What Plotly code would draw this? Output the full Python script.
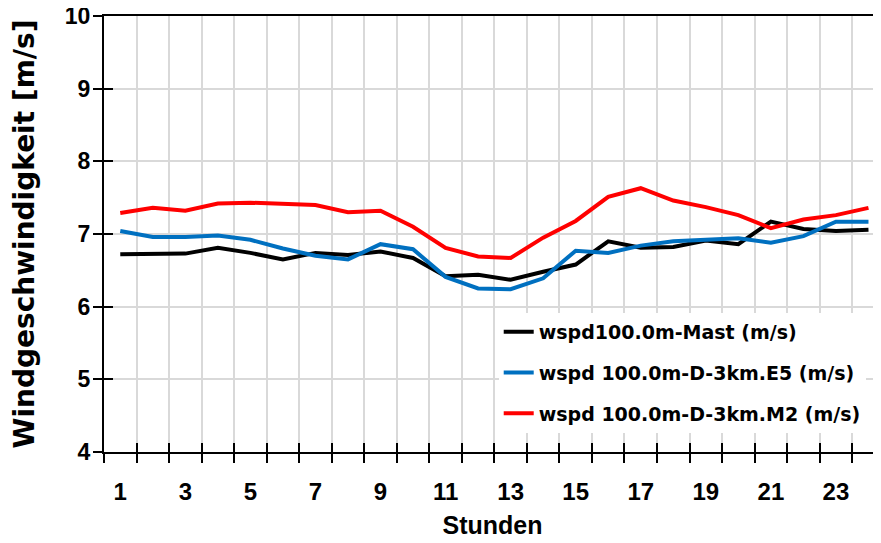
import plotly.graph_objects as go

hours = list(range(1, 25))
mast = [6.72, 6.72, 6.73, 6.81, 6.74, 6.65, 6.74, 6.71, 6.76, 6.67, 6.42, 6.44,
        6.37, 6.48, 6.58, 6.90, 6.81, 6.82, 6.91, 6.86, 7.17, 7.07, 7.04, 7.06]
e5 = [7.04, 6.96, 6.96, 6.98, 6.92, 6.80, 6.70, 6.65, 6.86, 6.79, 6.41, 6.25,
      6.24, 6.39, 6.77, 6.74, 6.84, 6.90, 6.92, 6.94, 6.88, 6.97, 7.17, 7.17]
m2 = [7.29, 7.36, 7.32, 7.42, 7.43, 7.42, 7.40, 7.30, 7.32, 7.10, 6.81, 6.69,
      6.67, 6.95, 7.18, 7.51, 7.63, 7.46, 7.37, 7.26, 7.08, 7.20, 7.26, 7.36]
names = ["wspd100.0m-Mast (m/s)", "wspd 100.0m-D-3km.E5 (m/s)", "wspd 100.0m-D-3km.M2 (m/s)"]
colors = ["#000000", "#0070C0", "#FF0000"]
xtick_vals = list(range(1, 24, 2))
xtick_text = [str(v) for v in xtick_vals]
bounds = [h + 0.5 for h in range(0, 24)]

FONT = "DejaVu Sans"
TFONT = "Liberation Sans"

fig = go.Figure()
for i, (ys, nm, c) in enumerate(zip([mast, e5, m2], names, colors)):
    fig.add_trace(go.Scatter(x=hours, y=ys, mode="lines", name=nm,
                             line=dict(color=c, width=4), legendgroup=f"g{i}"))
fig.add_trace(go.Scatter(x=[], y=[], xaxis="x2", yaxis="y2", showlegend=False))

fig.update_layout(
    width=873, height=535,
    margin=dict(l=96, r=0, t=8, b=91, autoexpand=False),
    plot_bgcolor="white", paper_bgcolor="white",
    font=dict(family=FONT, color="black"),
    showlegend=True,
    legend=dict(x=0.508, y=0.319, xanchor="left", yanchor="top",
                bgcolor="white", font=dict(family=FONT, size=19, color="black", weight="bold"),
                tracegroupgap=13, traceorder="grouped"),
    xaxis=dict(range=[0.5, 24.385], tickmode="array", tickvals=xtick_vals, ticktext=xtick_text,
               ticks="", showgrid=False, zeroline=False, automargin=False,
               showline=True, linecolor="black", linewidth=2, mirror=True,
               ticklabelstandoff=17,
               tickfont=dict(family=TFONT, size=24, weight="bold"),
               title=dict(text="Stunden", font=dict(family=TFONT, size=25, weight="bold"), standoff=13),
               minor=dict(tickmode="array", tickvals=bounds, ticks="outside", ticklen=9,
                          tickwidth=2, tickcolor="black", showgrid=True,
                          gridcolor="#d9d9d9", gridwidth=1.5)),
    yaxis=dict(range=[4, 10], dtick=1, tick0=4, ticks="outside", ticklen=9, tickwidth=2,
               tickcolor="black", showgrid=True, gridcolor="#d9d9d9", gridwidth=1.5,
               zeroline=False, showline=True, linecolor="black", linewidth=2, automargin=False,
               ticklabeloverflow="allow", ticklabelstandoff=-2,
               tickfont=dict(family=TFONT, size=23, weight="bold"),
               title=dict(text="Windgeschwindigkeit [m/s]",
                          font=dict(family=FONT, size=28, weight="bold"), standoff=25)),
    xaxis2=dict(overlaying="x", matches="x", anchor="y", side="bottom", showticklabels=False,
                tickmode="array", tickvals=bounds, ticks="inside", ticklen=9, tickwidth=2,
                tickcolor="black", showgrid=False, showline=False, zeroline=False),
    yaxis2=dict(overlaying="y", matches="y", anchor="x", side="left", showticklabels=False,
                dtick=1, tick0=4, ticks="inside", ticklen=9, tickwidth=2, tickcolor="black",
                showgrid=False, showline=False, zeroline=False),
)

fig.write_html("out.html")
